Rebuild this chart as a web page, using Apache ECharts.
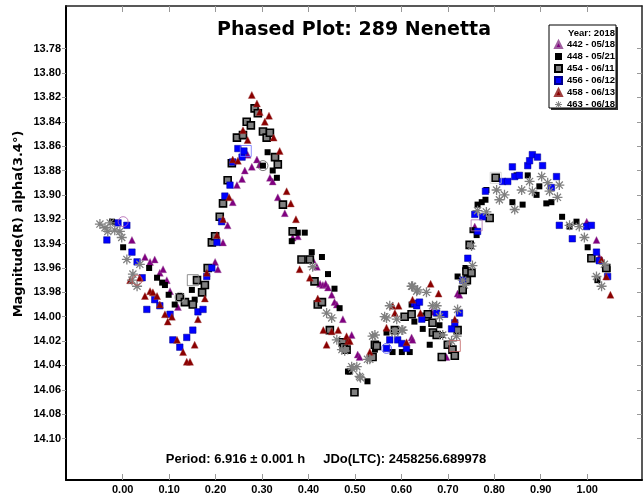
<!DOCTYPE html>
<html><head><meta charset="utf-8">
<script src="https://cdn.jsdelivr.net/npm/echarts@6/dist/echarts.min.js"></script>
<style>html,body{margin:0;padding:0;background:#fff}#c{width:644px;height:495px}</style>
</head><body><div id="c"></div>
<script>
const chartTitle = 'Phased Plot: 289 Nenetta';
const legendTitle = 'Year: 2018';
const footerText = 'Period: 6.916 ± 0.001 h     JDo(LTC): 2458256.689978';
const yAxisName = 'Magnitude(R) alpha(3.4°)';
const seriesNames = ['442 - 05/18', '448 - 05/21', '454 - 06/11', '456 - 06/12', '458 - 06/13', '463 - 06/18'];
const xTicks = [0.00, 0.10, 0.20, 0.30, 0.40, 0.50, 0.60, 0.70, 0.80, 0.90, 1.00];
const yTicks = [13.78, 13.80, 13.82, 13.84, 13.86, 13.88, 13.90, 13.92, 13.94, 13.96, 13.98, 14.00, 14.02, 14.04, 14.06, 14.08, 14.10];
const xRange = [-0.122, 1.118];
const yRange = [13.745, 14.134];

// [phase, magnitude]
const s442 = [[0.020,13.937],[0.048,13.951],[0.059,13.955],[0.069,13.953],[0.080,13.964],[0.087,13.961],[0.095,13.970],[0.102,13.979],[0.119,13.992],
[0.199,13.955],[0.205,13.961],[0.216,13.939],[0.226,13.925],[0.237,13.906],[0.246,13.892],[0.257,13.887],[0.263,13.880],[0.269,13.867],[0.278,13.877],[0.289,13.871],[0.295,13.875],[0.317,13.886],[0.323,13.889],[0.334,13.902],[0.349,13.915],[0.366,13.935],[0.377,13.934],[0.409,13.953],[0.418,13.959],[0.425,13.973],[0.431,13.974],[0.437,13.973],[0.442,13.976],[0.450,13.982],[0.456,13.988],[0.461,13.990],[0.474,14.002],[0.493,14.015],[0.506,14.031],[0.510,14.033],
[0.622,14.017],[0.624,14.019],[0.665,13.996],[0.697,14.033],[0.721,13.981],[0.725,13.982],[0.758,13.926],[0.999,13.922],[1.020,13.937],[1.026,13.951]];

const s448 = [[-0.023,13.922],[0.001,13.943],[0.057,13.960],[0.074,13.968],[0.085,13.972],[0.091,13.974],[0.099,13.982],[0.112,13.990],[0.149,13.978],[0.155,13.986],[0.302,13.876],[0.312,13.865],[0.323,13.880],[0.332,13.886],[0.364,13.938],[0.377,13.931],[0.392,13.931],[0.407,13.947],[0.429,13.951],[0.442,13.965],[0.456,13.977],[0.467,13.993],[0.485,14.045],[0.489,14.045],[0.527,14.053],[0.543,14.027],[0.568,14.013],[0.581,14.029],[0.601,14.029],[0.607,14.000],[0.618,14.029],[0.622,13.990],[0.628,14.004],[0.646,14.010],[0.661,14.023],[0.682,14.007],[0.687,14.015],[0.721,13.967],[0.738,13.960],[0.753,13.929],[0.762,13.933],[0.764,13.908],[0.773,13.906],[0.781,13.904],[0.783,13.896],[0.839,13.906],[0.848,13.884],[0.861,13.908],[0.872,13.884],[0.891,13.900],[0.897,13.893],[0.912,13.907],[0.923,13.906],[0.946,13.918],[0.962,13.926],[0.977,13.922],[1.001,13.943],[1.022,13.970],[1.044,13.961]];

const s454 = [[0.123,13.984],[0.134,13.988],[0.151,13.990],[0.160,13.970],[0.171,13.980],[0.177,13.974],[0.183,13.960],[0.192,13.939],[0.199,13.934],[0.209,13.918],[0.216,13.907],[0.226,13.888],[0.235,13.874],[0.246,13.853],[0.259,13.851],[0.267,13.840],[0.276,13.843],[0.284,13.829],[0.291,13.833],[0.302,13.848],[0.310,13.853],[0.317,13.849],[0.328,13.869],[0.334,13.875],[0.345,13.908],[0.366,13.930],[0.385,13.953],[0.403,13.953],[0.413,13.971],[0.420,13.990],[0.429,13.988],[0.446,14.011],[0.474,14.021],[0.476,14.025],[0.482,14.027],[0.499,14.062],[0.538,14.033],[0.543,14.023],[0.547,14.024],[0.586,14.011],[0.607,14.000],[0.622,13.998],[0.654,14.000],[0.657,13.998],[0.667,14.005],[0.668,14.013],[0.676,14.015],[0.687,14.033],[0.700,14.023],[0.710,14.027],[0.715,14.032],[0.721,14.011],[0.732,13.978],[0.740,13.963],[0.741,13.970],[0.747,13.941],[0.751,13.964],[0.790,13.919],[0.803,13.886],[1.009,13.952],[1.041,13.960]];

const s456 = [[-0.034,13.937],[-0.010,13.923],[0.009,13.925],[0.020,13.947],[0.031,13.955],[0.042,13.968],[0.052,13.994],[0.069,13.986],[0.080,13.991],[0.102,13.998],[0.108,14.019],[0.123,14.025],[0.138,14.017],[0.151,14.011],[0.162,13.996],[0.173,13.994],[0.181,13.967],[0.192,13.960],[0.203,13.939],[0.213,13.922],[0.220,13.901],[0.231,13.892],[0.237,13.873],[0.248,13.862],[0.257,13.869],[0.261,13.864],
[0.568,14.026],[0.575,14.019],[0.592,14.019],[0.601,14.022],[0.611,14.026],[0.628,13.989],[0.633,13.991],[0.639,13.988],[0.644,14.002],[0.676,13.997],[0.693,13.998],[0.708,14.010],[0.715,14.005],[0.725,13.997],[0.732,13.970],[0.743,13.952],[0.758,13.916],[0.764,13.930],[0.775,13.918],[0.781,13.897],[0.818,13.889],[0.829,13.889],[0.839,13.877],[0.844,13.885],[0.854,13.884],[0.872,13.876],[0.876,13.872],[0.882,13.867],[0.893,13.869],[0.904,13.876],[0.923,13.894],[0.934,13.885],[0.940,13.925],[0.968,13.936],[0.999,13.926],[1.009,13.925],[1.020,13.947],[1.026,13.954],[1.044,13.967]];

const s458 = [[0.016,13.970],[0.037,13.968],[0.048,13.983],[0.059,13.979],[0.065,13.980],[0.074,13.983],[0.080,13.990],[0.091,13.998],[0.097,14.004],[0.106,14.000],[0.117,14.019],[0.130,14.029],[0.138,14.037],[0.145,14.037],[0.155,14.023],[0.162,14.002],[0.177,13.985],[0.181,13.964],[0.203,13.933],[0.216,13.920],[0.229,13.902],[0.237,13.871],[0.248,13.872],[0.259,13.847],[0.269,13.855],[0.278,13.818],[0.289,13.825],[0.295,13.832],[0.306,13.840],[0.315,13.835],[0.325,13.853],[0.338,13.864],[0.353,13.897],[0.362,13.907],[0.373,13.920],[0.381,13.961],[0.403,13.968],[0.420,13.985],[0.432,14.011],[0.439,14.023],[0.450,14.012],[0.464,14.011],[0.482,14.016],[0.485,14.020],[0.489,14.020],[0.532,14.029],[0.568,14.009],[0.581,13.991],[0.586,13.997],[0.594,13.991],[0.611,14.021],[0.624,13.986],[0.641,13.997],[0.663,13.973],[0.680,13.981],[0.715,14.002],[1.031,13.953],[1.041,13.967],[1.050,13.982]];

const s463 = [[-0.049,13.924],[-0.038,13.927],[-0.032,13.930],[-0.027,13.923],[-0.017,13.929],[-0.006,13.930],[-0.002,13.935],[0.009,13.953],[0.020,13.970],[0.022,13.965],[0.031,13.975],[0.037,13.957],
[0.409,13.959],[0.439,13.997],[0.450,14.001],[0.461,14.019],[0.472,14.027],[0.478,14.028],[0.493,14.041],[0.495,14.043],[0.504,14.041],[0.510,14.049],[0.512,14.050],[0.527,14.035],[0.532,14.035],[0.538,14.016],[0.543,14.015],[0.564,14.000],[0.568,14.001],[0.575,13.991],[0.586,14.013],[0.590,14.002],[0.601,14.011],[0.603,14.011],[0.622,13.975],[0.624,13.975],[0.633,13.979],[0.635,13.978],[0.654,13.980],[0.667,13.991],[0.676,13.991],[0.682,14.000],[0.689,14.015],[0.708,14.020],[0.719,14.016],[0.721,13.994],[0.732,13.970],[0.736,13.974],[0.751,13.942],[0.753,13.958],[0.764,13.913],[0.783,13.914],[0.805,13.896],[0.811,13.904],[0.822,13.900],[0.844,13.912],[0.859,13.896],[0.876,13.889],[0.882,13.897],[0.902,13.885],[0.915,13.890],[0.919,13.897],[0.936,13.902],[0.940,13.892],[0.962,13.925],[0.983,13.926],[0.994,13.935],[1.020,13.967],[1.031,13.975],[1.037,13.957]];

// hollow reference markers (session starts)
const hollowCircles = [[0.001,13.922],[0.302,13.876],[0.123,13.984],[0.031,13.970],[0.568,14.026]];
const hollowCircleColors = ['#b060b0','#555555','#aaaaaa','#c05050','#5050ff'];
const hollowSquares = [[0.265,13.864],[0.151,13.970],[0.762,13.925],[0.715,14.024],[0.803,13.886]];
const hollowSquareColors = ['#7070ff','#777777','#b070b0','#c06060','#cccccc'];

const asterisk = 'path://M0 8.7L20 8.7L20 11.3L0 11.3Z M8.7 0L11.3 0L11.3 20L8.7 20Z M2.0 3.8L3.8 2.0L18.0 16.2L16.2 18.0Z M16.2 2.0L18.0 3.8L3.8 18.0L2.0 16.2Z';
const tickFont = {fontFamily: 'Liberation Sans, Arial, sans-serif', fontWeight: 'bold', fontSize: 11, color: '#000'};

const chart = echarts.init(document.getElementById('c'), null, {renderer: 'canvas'});
const baseX = {type: 'value', min: xRange[0], max: xRange[1], splitLine: {show: false}};
const baseY = {type: 'value', min: yRange[0], max: yRange[1], inverse: true, splitLine: {show: false}};

chart.setOption({
  animation: false,
  backgroundColor: '#fff',
  grid: {left: 66, right: 2, top: 6, bottom: 14, containLabel: false},
  xAxis: [
    Object.assign({}, baseX, {position: 'bottom',
      axisLine: {onZero: false, lineStyle: {color: '#000', width: 2}},
      axisTick: {inside: true, length: 6, customValues: xTicks, lineStyle: {color: '#999'}},
      axisLabel: Object.assign({customValues: xTicks, margin: 4, formatter: v => v.toFixed(2)}, tickFont)}),
    Object.assign({}, baseX, {position: 'top',
      axisLine: {onZero: false, lineStyle: {color: '#222', width: 1.5}},
      axisTick: {inside: true, length: 6, customValues: xTicks, lineStyle: {color: '#999'}},
      axisLabel: {show: false}})
  ],
  yAxis: [
    Object.assign({}, baseY, {position: 'left',
      axisLine: {onZero: false, lineStyle: {color: '#000', width: 2}},
      axisTick: {inside: false, length: 4, customValues: yTicks, lineStyle: {color: '#999'}},
      axisLabel: Object.assign({customValues: yTicks, margin: 5, formatter: v => v.toFixed(2)}, tickFont)}),
    Object.assign({}, baseY, {position: 'right',
      axisLine: {onZero: false, lineStyle: {color: '#222', width: 1.5}},
      axisTick: {inside: true, length: 5, customValues: yTicks, lineStyle: {color: '#999'}},
      axisLabel: {show: false}})
  ],
  legend: {
    data: seriesNames, orient: 'vertical', left: 554, top: 39.5, padding: 0, z: 30,
    itemWidth: 7, itemHeight: 7, itemGap: 2, selectedMode: false,
    textStyle: {fontFamily: 'Liberation Sans, Arial, sans-serif', fontWeight: 'bold', fontSize: 9.5, lineHeight: 9.5, color: '#000'}
  },
  graphic: [
    {type: 'rect', z: 10, shape: {x: 551, y: 27, width: 67, height: 83}, style: {fill: '#333'}},
    {type: 'rect', z: 11, shape: {x: 549, y: 25, width: 67, height: 83}, style: {fill: '#fff', stroke: '#000', lineWidth: 1}},
    {type: 'text', z: 12, x: 615, y: 33, style: {text: legendTitle, align: 'right', verticalAlign: 'middle', fill: '#000', font: 'bold 9.5px "Liberation Sans", Arial, sans-serif'}},
    {type: 'text', z: 12, x: 354, y: 30, style: {text: chartTitle, align: 'center', verticalAlign: 'middle', fill: '#000', font: 'bold 19px "DejaVu Sans", sans-serif'}},
    {type: 'text', z: 12, x: 326, y: 459, style: {text: footerText, align: 'center', verticalAlign: 'middle', fill: '#000', font: 'bold 13px "Liberation Sans", Arial, sans-serif'}},
    {type: 'text', z: 12, x: 19, y: 224, rotation: Math.PI / 2, style: {text: yAxisName, align: 'center', verticalAlign: 'middle', fill: '#000', font: 'bold 13px "DejaVu Sans", sans-serif'}}
  ],
  series: [
    {name: seriesNames[0], type: 'scatter', data: s442, symbol: 'triangle', symbolSize: 7, itemStyle: {color: '#800080', borderColor: '#a060a0', borderWidth: 0.4, opacity: 1}},
    {name: seriesNames[1], type: 'scatter', data: s448, symbol: 'rect', symbolSize: 6, itemStyle: {color: '#000', opacity: 1}},
    {name: seriesNames[2], type: 'scatter', data: s454, symbol: 'rect', symbolSize: 7, itemStyle: {color: '#808080', borderColor: '#000', borderWidth: 1.6, opacity: 1}},
    {name: seriesNames[3], type: 'scatter', data: s456, symbol: 'rect', symbolSize: 6.5, itemStyle: {color: '#0000ff', borderColor: '#00008b', borderWidth: 0.5, opacity: 1}},
    {name: seriesNames[4], type: 'scatter', data: s458, symbol: 'triangle', symbolSize: 7, itemStyle: {color: '#8b0000', borderColor: '#a04040', borderWidth: 0.4, opacity: 1}},
    {name: seriesNames[5], type: 'scatter', data: s463, symbol: asterisk, symbolSize: 10, itemStyle: {color: '#808080', opacity: 1}},
    {name: 'refCircles', type: 'scatter', silent: true, symbol: 'circle', symbolSize: 10,
      data: hollowCircles.map((p, i) => ({value: p, itemStyle: {color: 'rgba(0,0,0,0)', borderColor: hollowCircleColors[i], borderWidth: 1}}))},
    {name: 'refSquares', type: 'scatter', silent: true, symbol: 'rect', symbolSize: 11,
      data: hollowSquares.map((p, i) => ({value: p, itemStyle: {color: 'rgba(0,0,0,0)', borderColor: hollowSquareColors[i], borderWidth: 1}}))}
  ]
});
</script></body></html>
